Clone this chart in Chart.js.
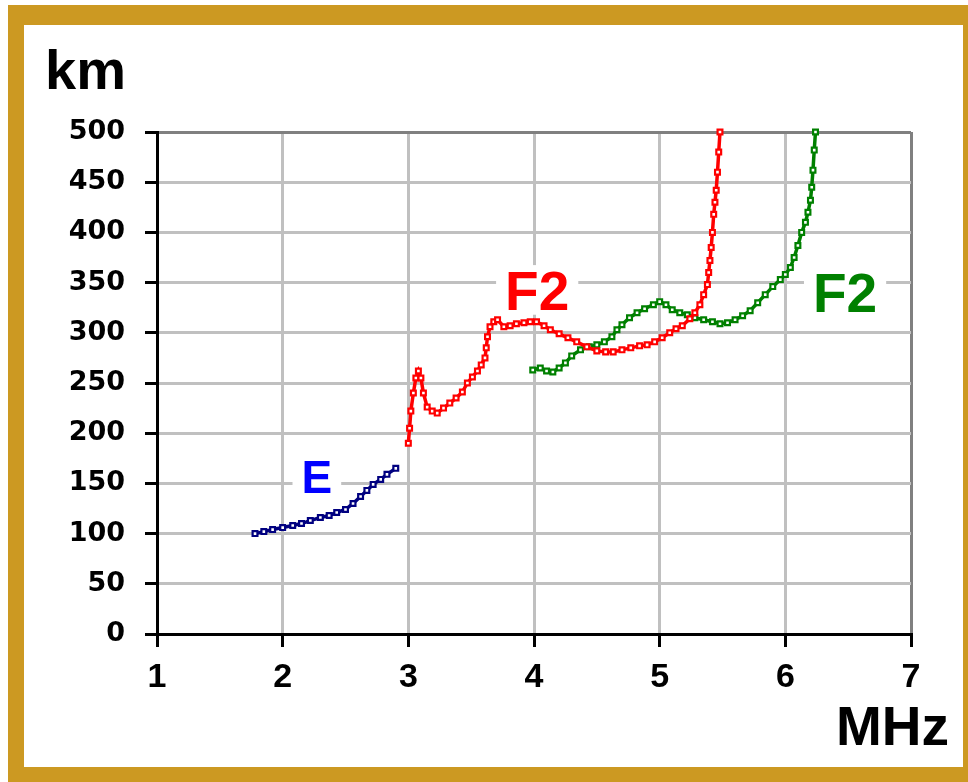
<!DOCTYPE html>
<html>
<head>
<meta charset="utf-8">
<script src="https://cdn.jsdelivr.net/npm/chart.js@4/dist/chart.umd.min.js"></script>
<style>
  html, body { margin:0; padding:0; background:#ffffff; width:968px; height:782px; overflow:hidden; }
  #frame { position:absolute; left:8px; top:5px; width:960px; height:777px; box-sizing:border-box;
           border-style:solid; border-color:#CC9922; border-width:20px 5px 15px 16px; }
  #wrap { position:absolute; left:0; top:0; width:968px; height:782px; }
</style>
</head>
<body>
<div id="frame"></div>
<div id="wrap"><canvas id="c" width="968" height="782"></canvas></div>
<script>
// ---- data ----
const xTicks = [1, 2, 3, 4, 5, 6, 7];
const yTicks = [0, 50, 100, 150, 200, 250, 300, 350, 400, 450, 500];

const eFreq = [1.78,1.85,1.92,2.0,2.08,2.15,2.22,2.3,2.37,2.43,2.5,2.56,2.62,2.67,2.72,2.78,2.83,2.9];
const eHeight = [100,102,104,106,108,110,113,116,118,121,124,130,137,143,149,154,159,165];

const f2aFreq = [3.0,3.01,3.02,3.04,3.06,3.08,3.1,3.12,
  3.15,3.19,3.23,3.28,3.33,3.38,3.43,3.47,
  3.51,3.55,3.58,3.61,3.62,3.63,3.65,3.68,
  3.71,3.76,3.81,3.86,3.92,3.97,4.02,4.08,
  4.13,4.2,4.27,4.34,4.42,4.5,4.57,4.63,
  4.7,4.77,4.84,4.9,4.96,5.02,5.08,5.13,
  5.18,5.24,5.28,5.32,5.35,5.38,5.39,5.4,
  5.41,5.42,5.43,5.44,5.45,5.46,5.47,5.48];
const f2aHeight = [190,205,222,240,255,262,255,240,
  226,222,220,225,230,235,241,250,
  256,262,268,275,285,296,306,311,
  313,306,307,309,310,311,311,307,
  303,299,295,291,286,282,281,281,
  283,285,287,288,291,295,300,304,
  307,314,320,328,338,348,360,372,
  385,400,418,430,442,460,480,500];

const f2bFreq = [3.99,4.05,4.1,4.15,4.2,4.25,4.3,4.37,4.44,4.5,
  4.56,4.62,4.66,4.7,4.76,4.82,4.88,4.95,5.0,5.05,
  5.1,5.16,5.22,5.28,5.35,5.42,5.48,5.54,5.6,5.66,
  5.72,5.78,5.84,5.9,5.96,6.0,6.04,6.07,6.1,6.13,
  6.16,6.18,6.2,6.21,6.22,6.23,6.24];
const f2bHeight = [263,265,262,261,265,270,277,283,286,288,
  291,296,303,308,315,320,324,328,331,328,
  323,320,318,315,313,311,309,310,313,317,
  322,330,338,346,353,358,365,375,387,400,
  410,420,432,445,462,482,500];

const seriesLabels = ["E", "F2", "F2"];
const axisTitleY = "km";
const axisTitleX = "MHz";

// ---- build ----
function pts(xs, ys) { return xs.map((x, i) => ({ x: x, y: ys[i] })); }

function lineDs(data, color) {
  return {
    data: data, showLine: true, borderColor: color, borderWidth: 3.5, tension: 0,
    pointStyle: 'rect', pointRadius: 3.4, pointBorderWidth: 2.2,
    pointBackgroundColor: '#ffffff', pointBorderColor: color, clip: 6
  };
}

const labelPlugin = {
  id: 'labels',
  beforeDatasetsDraw(chart) {
    const ctx = chart.ctx;
    const xs = chart.scales.x, ys = chart.scales.y;
    const items = [
      { t: seriesLabels[0], fx: 2.15, fy: 140, c: '#0000FF', size: 46 },
      { t: seriesLabels[1], fx: 3.77, fy: 323, c: '#FF0000', size: 55 },
      { t: seriesLabels[2], fx: 6.22, fy: 321, c: '#008000', size: 55 }
    ];
    ctx.save();
    items.forEach(it => {
      ctx.font = 'bold ' + it.size + 'px "Liberation Sans", Arial, sans-serif';
      ctx.textBaseline = 'alphabetic';
      ctx.textAlign = 'left';
      const px = xs.getPixelForValue(it.fx), py = ys.getPixelForValue(it.fy);
      const w = ctx.measureText(it.t).width;
      const h = it.size * 0.72;
      ctx.fillStyle = '#ffffff';
      ctx.fillRect(px - 9, py - h - 5, w + 18, h + 10);
      ctx.fillStyle = it.c;
      ctx.fillText(it.t, px, py);
    });
    ctx.restore();
  },
  afterDraw(chart) {
    const ctx = chart.ctx;
    ctx.save();
    ctx.fillStyle = '#000000';
    ctx.textBaseline = 'alphabetic';
    ctx.textAlign = 'left';
    ctx.font = 'bold 56px "Liberation Sans", Arial, sans-serif';
    ctx.fillText(axisTitleY, 45, 89);
    ctx.font = 'bold 55px "Liberation Sans", Arial, sans-serif';
    ctx.fillText(axisTitleX, 836, 745);
    ctx.restore();
  }
};

new Chart(document.getElementById('c'), {
  type: 'scatter',
  data: {
    datasets: [
      lineDs(pts(eFreq, eHeight), '#000080'),
      lineDs(pts(f2aFreq, f2aHeight), '#FF0000'),
      lineDs(pts(f2bFreq, f2bHeight), '#008000')
    ]
  },
  options: {
    responsive: false, animation: false, devicePixelRatio: 1,
    layout: { padding: { left: 0, top: 132, right: 57, bottom: 0 } },
    plugins: { legend: { display: false }, tooltip: { enabled: false } },
    scales: {
      x: {
        type: 'linear', min: 1, max: 7,
        afterFit(s) { s.height = 148; },
        afterBuildTicks(s) { s.ticks = xTicks.map(v => ({ value: v })); },
        grid: {
          color: ctx => (ctx.tick && ctx.tick.value === 7) ? '#808080' : '#C0C0C0',
          lineWidth: 3, tickColor: '#000000', tickLength: 13, tickWidth: 3
        },
        border: { color: '#000000', width: 3 },
        ticks: {
          color: '#000000', padding: 10, maxRotation: 0,
          font: { family: '"Liberation Sans", Arial, sans-serif', size: 34, weight: 'bold' }
        }
      },
      y: {
        type: 'linear', min: 0, max: 500,
        afterFit(s) { s.width = 157; },
        afterBuildTicks(s) { s.ticks = yTicks.map(v => ({ value: v })); },
        grid: {
          color: ctx => (ctx.tick && ctx.tick.value === 500) ? '#808080' : '#C0C0C0',
          lineWidth: 3, tickColor: '#000000', tickLength: 12, tickWidth: 3
        },
        border: { color: '#000000', width: 3 },
        ticks: {
          color: '#000000', padding: 20,
          font: { family: '"DejaVu Sans", sans-serif', size: 27, weight: 'bold' }
        }
      }
    }
  },
  plugins: [labelPlugin]
});
</script>
</body>
</html>
